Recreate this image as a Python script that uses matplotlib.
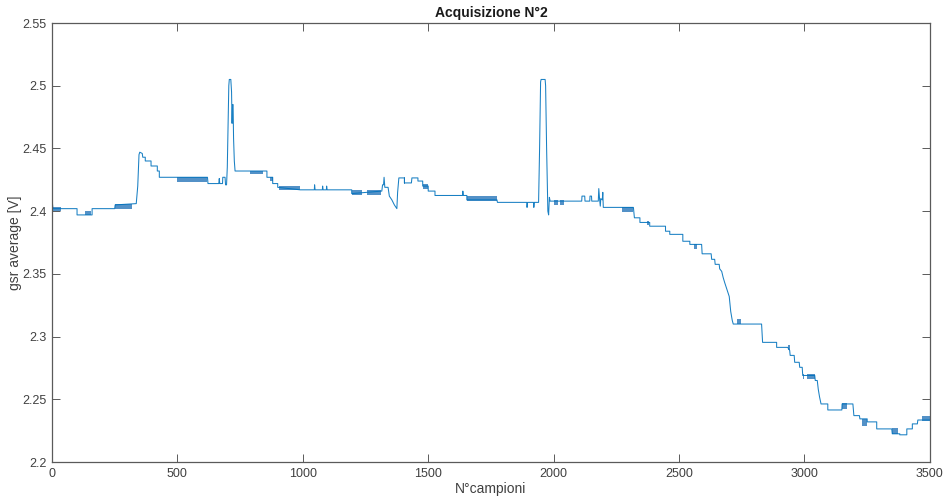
import numpy as np
import matplotlib.pyplot as plt

plt.rcParams['font.family'] = ['Liberation Sans', 'DejaVu Sans']

# main trace vertices (sample index, volts)
trace_x = [0, 2, 4, 100, 100, 160, 160, 250, 252, 336,
           342, 347, 350, 360, 362, 372, 372, 395, 395, 420, 420, 428, 428, 500,
           620, 622, 665, 667, 669, 680, 681, 690, 692, 696, 699, 705, 707, 713,
           716, 718, 720, 722, 724, 727, 730, 790,
           857, 857, 880, 880, 900, 900,
           990, 1046, 1047, 1049, 1078, 1079, 1081, 1094, 1095, 1097, 1195, 1195,
           1315, 1318, 1322, 1324, 1327, 1340, 1345, 1355, 1365, 1372, 1375, 1378, 1383,
           1405, 1405, 1433, 1435, 1459, 1459, 1478, 1478, 1500, 1500, 1527, 1527,
           1637, 1638, 1640, 1654, 1654,
           1774, 1776, 1893, 1894, 1896, 1920, 1921, 1923, 1940, 1944, 1948, 1950,
           1966, 1968, 1972, 1977, 1980, 1983, 1986,
           2112, 2113, 2124, 2125, 2144, 2145, 2151, 2152, 2178, 2180, 2183, 2186,
           2188, 2194, 2196, 2198, 2272,
           2318, 2322, 2344, 2344, 2383, 2383, 2446, 2446, 2463, 2463, 2515, 2515,
           2543, 2543, 2590, 2592, 2628, 2630, 2642, 2644, 2660, 2662, 2670, 2676,
           2682, 2692, 2700, 2706, 2712, 2716, 2829, 2833, 2889, 2889, 2933,
           2941, 2943, 2959, 2961, 2979, 2981, 2991, 2993, 3041, 3043, 3051, 3055,
           3060, 3066, 3093, 3093, 3149, 3150, 3193, 3197, 3219, 3221, 3250, 3250,
           3288, 3288, 3348, 3350, 3380, 3380, 3408, 3408, 3430, 3430, 3450, 3452, 3500]
trace_y = [2.400, 2.406, 2.402, 2.402, 2.397, 2.397, 2.402, 2.402, 2.405, 2.406,
           2.420, 2.445, 2.447, 2.446, 2.443, 2.443, 2.440, 2.440, 2.436, 2.436, 2.432, 2.432, 2.427, 2.427,
           2.427, 2.422, 2.422, 2.426, 2.422, 2.422, 2.427, 2.427, 2.421, 2.421, 2.435, 2.500, 2.505, 2.505,
           2.495, 2.470, 2.485, 2.485, 2.458, 2.440, 2.432, 2.432,
           2.432, 2.427, 2.427, 2.422, 2.422, 2.419,
           2.417, 2.417, 2.421, 2.417, 2.417, 2.420, 2.417, 2.417, 2.420, 2.417, 2.417, 2.414,
           2.416, 2.421, 2.421, 2.427, 2.419, 2.419, 2.412, 2.409, 2.405, 2.403, 2.402, 2.415, 2.4265,
           2.4265, 2.4225, 2.4225, 2.4265, 2.4265, 2.424, 2.424, 2.420, 2.420, 2.416, 2.416, 2.4125,
           2.4125, 2.416, 2.4125, 2.4125, 2.409,
           2.409, 2.407, 2.407, 2.403, 2.407, 2.407, 2.403, 2.407, 2.407, 2.450, 2.503, 2.505,
           2.505, 2.500, 2.450, 2.400, 2.397, 2.411, 2.408,
           2.408, 2.412, 2.412, 2.408, 2.408, 2.412, 2.412, 2.408, 2.408, 2.418, 2.410, 2.404,
           2.410, 2.409, 2.415, 2.403, 2.403,
           2.403, 2.3947, 2.3947, 2.391, 2.391, 2.388, 2.388, 2.384, 2.384, 2.3815, 2.3815, 2.376,
           2.376, 2.3735, 2.3735, 2.366, 2.366, 2.3616, 2.3616, 2.3576, 2.3576, 2.354, 2.352, 2.347,
           2.343, 2.337, 2.332, 2.320, 2.313, 2.310, 2.310, 2.2954, 2.2954, 2.2914, 2.2914,
           2.289, 2.285, 2.285, 2.2795, 2.2795, 2.2755, 2.2755, 2.269, 2.269, 2.265, 2.265, 2.258,
           2.252, 2.2463, 2.2463, 2.2415, 2.2415, 2.2463, 2.2463, 2.237, 2.237, 2.2344, 2.2344, 2.232,
           2.232, 2.2264, 2.2264, 2.2225, 2.2225, 2.2217, 2.2217, 2.2264, 2.2264, 2.2304, 2.2304, 2.2335, 2.2335]

# dense quantisation flicker blocks: start, end, low, high
band_x0 = [5, 130, 250, 500, 790, 870, 905, 1195, 1255, 1402, 1478, 1654,
           2000, 2024, 2272, 2372, 2558, 2730, 2933, 2995, 3010, 3149, 3230, 3348, 3470]
band_x1 = [35, 155, 320, 620, 842, 880, 990, 1235, 1310, 1408, 1500, 1774,
           2016, 2040, 2315, 2380, 2572, 2745, 2941, 3000, 3040, 3169, 3250, 3372, 3500]
band_lo = [2.400, 2.397, 2.402, 2.423, 2.430, 2.424, 2.417, 2.413, 2.413, 2.422, 2.418, 2.408,
           2.405, 2.405, 2.399, 2.389, 2.370, 2.310, 2.289, 2.266, 2.266, 2.242, 2.229, 2.222, 2.233]
band_hi = [2.403, 2.400, 2.406, 2.427, 2.432, 2.427, 2.420, 2.417, 2.417, 2.427, 2.422, 2.412,
           2.409, 2.409, 2.403, 2.392, 2.3735, 2.314, 2.293, 2.270, 2.270, 2.247, 2.234, 2.227, 2.237]

xticks = [0, 500, 1000, 1500, 2000, 2500, 3000, 3500]
yticks = [2.2, 2.25, 2.3, 2.35, 2.4, 2.45, 2.5, 2.55]
ytick_labels = ['2.2', '2.25', '2.3', '2.35', '2.4', '2.45', '2.5', '2.55']

line_col = '#0072BD'
axis_col = '#5a5a5a'
text_col = '#404040'

fig = plt.figure(figsize=(9.43, 4.99), dpi=100)
ax = fig.add_axes([0.0551, 0.0741, 0.9310, 0.8798])

for x0, x1, lo, hi in zip(band_x0, band_x1, band_lo, band_hi):
    ax.fill_between([x0, x1], [lo, lo], [hi, hi], color='#1a6cb5', lw=0, alpha=0.75)
ax.plot(trace_x, trace_y, color=line_col, lw=0.75, alpha=0.9)

ax.set_xlim(0, 3500)
ax.set_ylim(2.2, 2.55)
ax.set_xticks(xticks)
ax.set_xticklabels([str(t) for t in xticks])
ax.set_yticks(yticks)
ax.set_yticklabels(ytick_labels)
ax.tick_params(direction='in', length=6, width=0.7, color=axis_col,
               labelcolor=text_col, labelsize=9, top=True, right=True, pad=4)
for s in ax.spines.values():
    s.set_color(axis_col)
    s.set_linewidth(0.9)

ax.set_title('Acquisizione N°2', fontsize=10, fontweight='bold', color='#1a1a1a', pad=4)
ax.set_xlabel('N°campioni', fontsize=10, color=text_col, labelpad=2)
ax.set_ylabel('gsr average [V]', fontsize=10, color=text_col, labelpad=0)

fig.savefig('out.png', dpi=100)
